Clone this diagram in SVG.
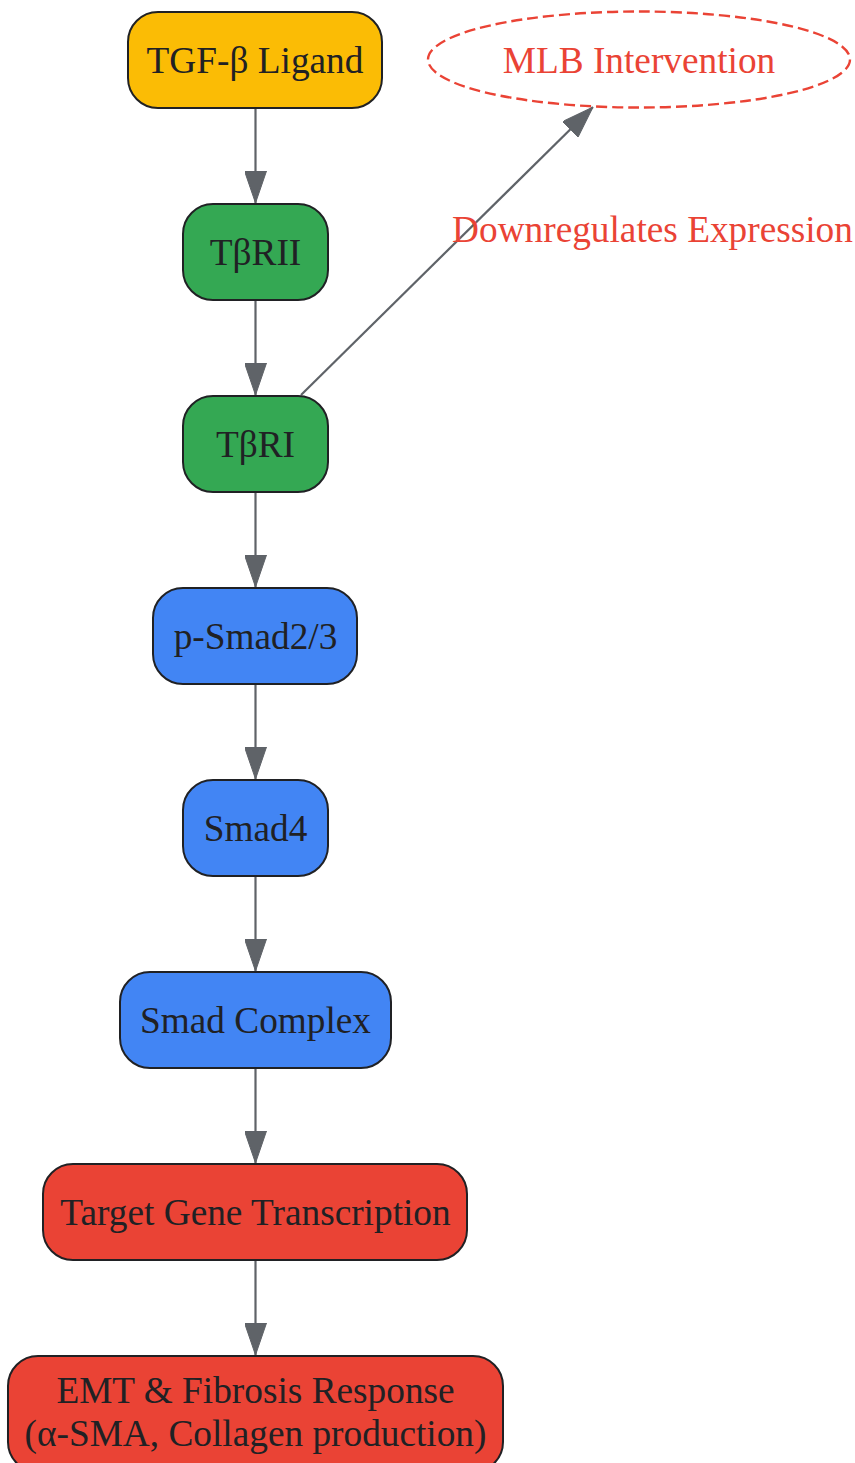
<svg xmlns="http://www.w3.org/2000/svg" width="855" height="1463" viewBox="0 0 855 1463">
<style>
.n{stroke:#202124;stroke-width:2}
.t{font-family:"Liberation Serif","Times New Roman",serif;font-size:37.3px;fill:#202124;text-anchor:middle}
.e{stroke:#5f6368;stroke-width:2.2;fill:none}
.r{fill:#ea4335}
</style>
<defs>
<marker id="ah" viewBox="0 0 32 22" refX="32" refY="11" markerWidth="32" markerHeight="22" markerUnits="userSpaceOnUse" orient="auto">
<path d="M0,0 L32,11 L0,22 Z" fill="#5f6368" stroke="#5f6368" stroke-width="1"/>
</marker>
</defs>
<rect width="855" height="1463" fill="#ffffff"/>
<g id="edges">
<line class="e" x1="255.5" y1="108" x2="255.5" y2="203" marker-end="url(#ah)"/>
<line class="e" x1="255.5" y1="300" x2="255.5" y2="395" marker-end="url(#ah)"/>
<line class="e" x1="255.5" y1="492" x2="255.5" y2="587" marker-end="url(#ah)"/>
<line class="e" x1="255.5" y1="684" x2="255.5" y2="779" marker-end="url(#ah)"/>
<line class="e" x1="255.5" y1="876" x2="255.5" y2="971" marker-end="url(#ah)"/>
<line class="e" x1="255.5" y1="1068" x2="255.5" y2="1163" marker-end="url(#ah)"/>
<line class="e" x1="255.5" y1="1260" x2="255.5" y2="1355" marker-end="url(#ah)"/>
<line class="e" x1="301" y1="395" x2="593" y2="107" marker-end="url(#ah)"/>
<text class="t r" x="652.5" y="242">Downregulates Expression</text>
</g>
<g id="tgf">
<rect class="n" x="128" y="12" width="254" height="96" rx="30" fill="#fbbc05"/>
<text class="t" x="255" y="73">TGF-β Ligand</text>
</g>
<g id="mlb">
<ellipse cx="639" cy="59.5" rx="211" ry="48" fill="none" stroke="#ea4335" stroke-width="2.4" stroke-dasharray="11,5"/>
<text class="t r" x="639" y="73">MLB Intervention</text>
</g>
<g id="tbr2">
<rect class="n" x="183" y="204" width="145" height="96" rx="30" fill="#34a853"/>
<text class="t" x="255.5" y="265">TβRII</text>
</g>
<g id="tbr1">
<rect class="n" x="183" y="396" width="145" height="96" rx="30" fill="#34a853"/>
<text class="t" x="255.5" y="457">TβRI</text>
</g>
<g id="psmad">
<rect class="n" x="153" y="588" width="204" height="96" rx="30" fill="#4285f4"/>
<text class="t" x="255.5" y="649">p-Smad2/3</text>
</g>
<g id="smad4">
<rect class="n" x="183" y="780" width="145" height="96" rx="30" fill="#4285f4"/>
<text class="t" x="255.5" y="841">Smad4</text>
</g>
<g id="complex">
<rect class="n" x="120" y="972" width="271" height="96" rx="30" fill="#4285f4"/>
<text class="t" x="255.5" y="1033">Smad Complex</text>
</g>
<g id="target">
<rect class="n" x="43" y="1164" width="424" height="96" rx="30" fill="#ea4335"/>
<text class="t" x="255.5" y="1225">Target Gene Transcription</text>
</g>
<g id="emt">
<rect class="n" x="8" y="1356" width="495" height="116" rx="30" fill="#ea4335"/>
<text class="t" x="255.5" y="1403">EMT &amp; Fibrosis Response</text>
<text class="t" x="255.5" y="1446">(α-SMA, Collagen production)</text>
</g>
</svg>
